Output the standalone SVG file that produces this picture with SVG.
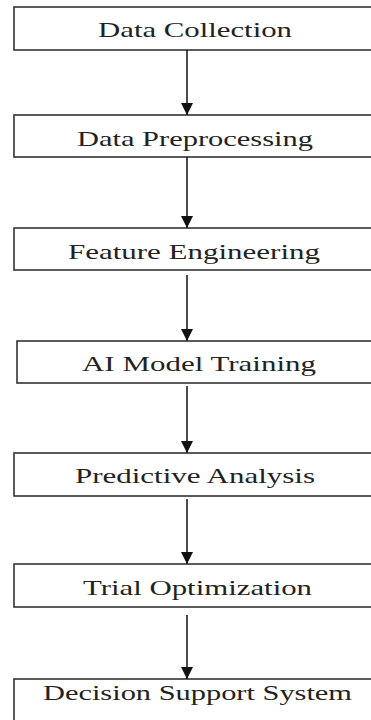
<svg xmlns="http://www.w3.org/2000/svg" width="371" height="720" viewBox="0 0 371 720">
<defs>
<style>
.box{fill:#fff;stroke:#333;stroke-width:1.6}
.lbl{font-family:"Liberation Serif","Times New Roman",serif;font-size:22px;fill:#222}
.conn{stroke:#111;stroke-width:1.5;fill:none}
</style>
<marker id="ah" viewBox="0 0 12 12" refX="12" refY="6" markerWidth="12" markerHeight="12" markerUnits="userSpaceOnUse" orient="auto">
<path d="M0,0 L12,6 L0,12 Z" fill="#111"/>
</marker>
</defs>
<rect width="371" height="720" fill="#fff"/>
<g id="n1"><rect class="box" x="14" y="7" width="365" height="43"/><text class="lbl" x="98" y="37" textLength="194" lengthAdjust="spacingAndGlyphs">Data Collection</text></g>
<g id="n2"><rect class="box" x="14" y="115" width="365" height="42"/><text class="lbl" x="77" y="146" textLength="236" lengthAdjust="spacingAndGlyphs">Data Preprocessing</text></g>
<g id="n3"><rect class="box" x="14" y="228" width="365" height="42"/><text class="lbl" x="68" y="259" textLength="252" lengthAdjust="spacingAndGlyphs">Feature Engineering</text></g>
<g id="n4"><rect class="box" x="17" y="341" width="362" height="42"/><text class="lbl" x="82" y="371" textLength="234" lengthAdjust="spacingAndGlyphs">AI Model Training</text></g>
<g id="n5"><rect class="box" x="14" y="453" width="365" height="43"/><text class="lbl" x="75" y="483" textLength="240" lengthAdjust="spacingAndGlyphs">Predictive Analysis</text></g>
<g id="n6"><rect class="box" x="14" y="564" width="365" height="43"/><text class="lbl" x="83" y="595" textLength="229" lengthAdjust="spacingAndGlyphs">Trial Optimization</text></g>
<g id="n7"><rect class="box" x="14" y="679" width="365" height="60"/><text class="lbl" x="43" y="700" textLength="309" lengthAdjust="spacingAndGlyphs">Decision Support System</text></g>
<g id="connectors">
<line class="conn" x1="187" y1="50" x2="187" y2="115" marker-end="url(#ah)"/>
<line class="conn" x1="187" y1="157" x2="187" y2="228" marker-end="url(#ah)"/>
<line class="conn" x1="187" y1="275" x2="187" y2="341" marker-end="url(#ah)"/>
<line class="conn" x1="187" y1="386" x2="187" y2="453" marker-end="url(#ah)"/>
<line class="conn" x1="187" y1="499" x2="187" y2="564" marker-end="url(#ah)"/>
<line class="conn" x1="187" y1="615" x2="187" y2="679" marker-end="url(#ah)"/>
</g>
</svg>
